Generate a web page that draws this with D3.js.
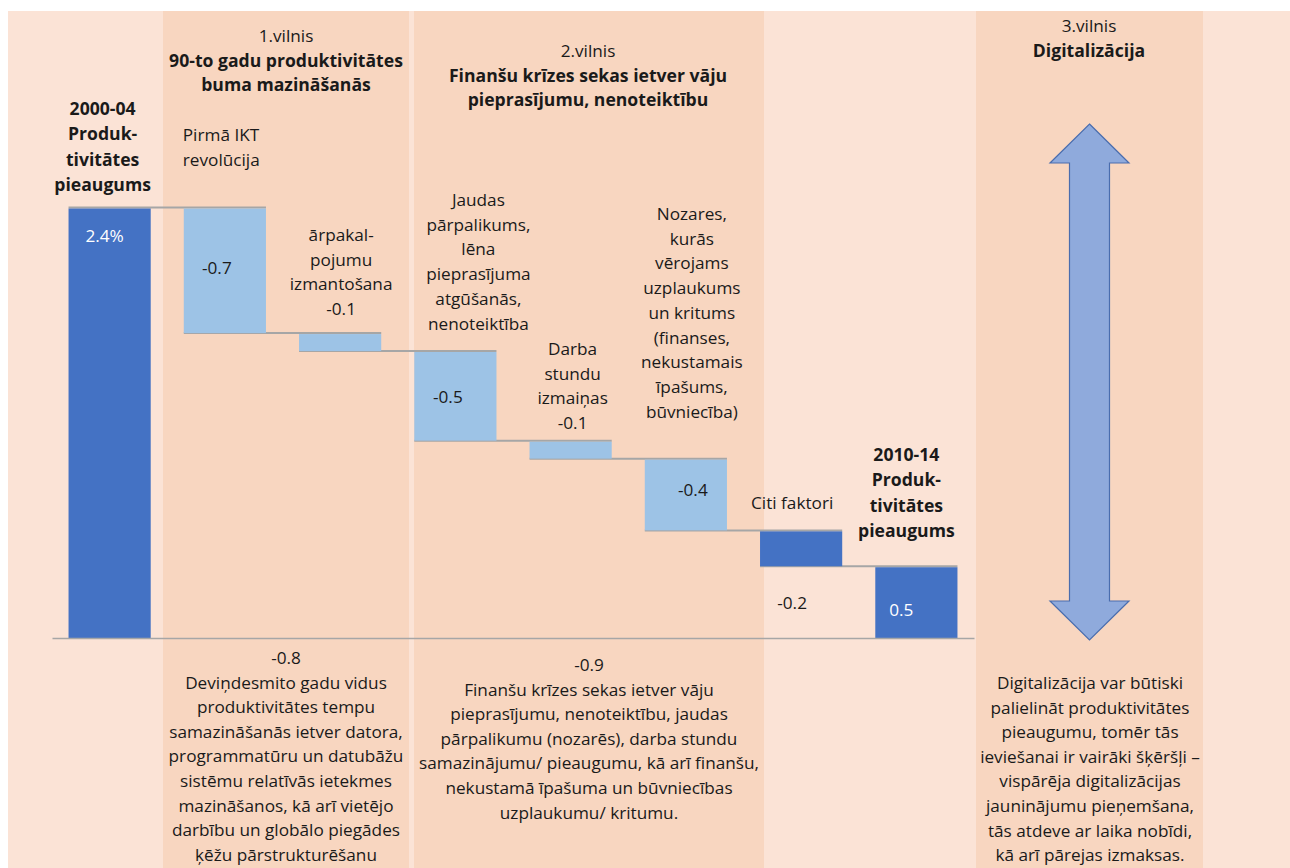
<!DOCTYPE html>
<html>
<head>
<meta charset="utf-8">
<script src="https://cdn.jsdelivr.net/npm/d3@7"></script>
<style>
  html, body { margin: 0; padding: 0; background: #ffffff; }
  svg { display: block; }
  text { font-family: "Open Sans", "Noto Sans", sans-serif; }
</style>
</head>
<body>
<svg id="chart" width="1290" height="868"></svg>
<script>
// ---------------- DATA ----------------
const categories = [
  "2000-04 Produktivitātes pieaugums",
  "Pirmā IKT revolūcija",
  "ārpakalpojumu izmantošana",
  "Jaudas pārpalikums",
  "Darba stundu izmaiņas",
  "Nozares ar uzplaukumu un kritumu",
  "Citi faktori",
  "2010-14 Produktivitātes pieaugums"
];
// change values (first = starting total, last = closing total, computed as running sum)
const values = [2.4, -0.7, -0.1, -0.5, -0.1, -0.4, -0.2, null];
const kinds = ["total", "delta", "delta", "delta", "delta", "delta", "other", "total"];
const valueLabels = ["2.4%", "-0.7", "-0.1", "-0.5", "-0.1", "-0.4", "-0.2", "0.5"];

const categoryLabelLines = [
  ["2000-04", "Produk-", "tivitātes", "pieaugums"],
  ["Pirmā IKT", "revolūcija"],
  ["ārpakal-", "pojumu", "izmantošana"],
  ["Jaudas", "pārpalikums,", "lēna", "pieprasījuma", "atgūšanās,", "nenoteiktība"],
  ["Darba", "stundu", "izmaiņas"],
  ["Nozares,", "kurās", "vērojams", "uzplaukums", "un kritums", "(finanses,", "nekustamais", "īpašums,", "būvniecība)"],
  ["Citi faktori"],
  ["2010-14", "Produk-", "tivitātes", "pieaugums"]
];

const waveNames = ["1.vilnis", "2.vilnis", "3.vilnis"];
const waveTitles = [
  ["90-to gadu produktivitātes", "buma mazināšanās"],
  ["Finanšu krīzes sekas ietver vāju", "pieprasījumu, nenoteiktību"],
  ["Digitalizācija"]
];
const waveTotals = ["-0.8", "-0.9", null];
const waveNotes = [
  ["Deviņdesmito gadu vidus", "produktivitātes tempu", "samazināšanās ietver datora,", "programmatūru un datubāžu", "sistēmu relatīvās ietekmes", "mazināšanos, kā arī vietējo", "darbību un globālo piegādes", "ķēžu pārstrukturēšanu"],
  ["Finanšu krīzes sekas ietver vāju", "pieprasījumu, nenoteiktību, jaudas", "pārpalikumu (nozarēs), darba stundu", "samazinājumu/ pieaugumu, kā arī finanšu,", "nekustamā īpašuma un būvniecības", "uzplaukumu/ kritumu."],
  ["Digitalizācija var būtiski", "palielināt produktivitātes", "pieaugumu, tomēr tās", "ieviešanai ir vairāki šķēršļi –", "vispārēja digitalizācijas", "jauninājumu pieņemšana,", "tās atdeve ar laika nobīdi,", "kā arī pārejas izmaksas."]
];

// ---------------- LAYOUT ----------------
const W = 1290, H = 868;
const svg = d3.select("#chart");
const C = {
  white: "#ffffff",
  bgLight: "#FBE3D6",
  band: "#F8D6C0",
  dark: "#4472C4",
  light: "#9DC3E6",
  line: "#A6A6A6",
  text: "#1a1a1a",
  arrowFill: "#8FAADC",
  arrowStroke: "#4A6DAE"
};
const FS = 17.2;
const FSB = 17.6;
const LH = 24.7;

// running totals
const bars = [];
let cum = 0;
values.forEach((v, i) => {
  if (kinds[i] === "total") {
    if (v === null) v = cum;       // closing total = running sum
    bars.push({ i, y0: 0, y1: v, kind: kinds[i] });
    cum = v;
  } else {
    bars.push({ i, y0: cum, y1: cum + v, kind: kinds[i] });
    cum = cum + v;
  }
});

const x = d3.scaleBand().domain(d3.range(categories.length))
  .range([52, 974]).paddingInner(0.287).paddingOuter(0.1435);
const y = d3.scaleLinear().domain([0, 2.4]).range([638, 207.5]);
const bw = x.bandwidth();

// background
svg.append("rect").attr("x", 0).attr("y", 0).attr("width", W).attr("height", H).attr("fill", C.white);
svg.append("rect").attr("x", 8).attr("y", 11).attr("width", W - 8).attr("height", H - 11).attr("fill", C.bgLight);
const bandsX = [[163, 409], [414, 764], [976, 1203]];
svg.selectAll("rect.band").data(bandsX).join("rect").attr("class", "band")
  .attr("x", d => d[0]).attr("y", 11).attr("width", d => d[1] - d[0]).attr("height", H - 11)
  .attr("fill", C.band);

// connector lines
const conn = bars.slice(0, -1).map((b, k) => ({ level: b.y1, from: k, to: k + 1 }));
svg.selectAll("line.conn").data(conn).join("line").attr("class", "conn")
  .attr("x1", d => x(d.from)).attr("x2", d => x(d.to) + bw)
  .attr("y1", d => y(d.level)).attr("y2", d => y(d.level))
  .attr("stroke", C.line).attr("stroke-width", 2);

// bars
svg.selectAll("rect.bar").data(bars).join("rect").attr("class", "bar")
  .attr("x", d => x(d.i)).attr("width", bw)
  .attr("y", d => y(Math.max(d.y0, d.y1)) + 1)
  .attr("height", d => Math.abs(y(d.y0) - y(d.y1)) - 1)
  .attr("fill", d => d.kind === "delta" ? C.light : C.dark);

// axis baseline
const axis = d3.axisBottom(x).tickSize(0).tickFormat("");
const gAx = svg.append("g").attr("transform", `translate(0,${y(0)})`).call(axis);
gAx.select(".domain").attr("stroke", C.line).attr("stroke-width", 1.5);

// helper for multi-line text (y = center of first line)
function block(lines, cx, cy, opts = {}) {
  const t = svg.append("text")
    .attr("x", cx).attr("y", cy)
    .attr("text-anchor", opts.anchor || "middle")
    .attr("font-size", opts.size || (opts.weight === 700 ? FSB : FS))
    .attr("font-weight", opts.weight || 400)
    .attr("fill", opts.fill || C.text);
  lines.forEach((l, k) => {
    t.append("tspan").attr("x", cx).attr("y", cy + k * (opts.lh || LH)).attr("dy", "0.35em").text(l);
  });
  return t;
}
const cx = i => x(i) + bw / 2;

// value labels
const valuePos = [
  { dx: -5, y: 236, fill: C.white },
  { dx: -8, y: 268 },
  null,
  { dx: -7.5, y: 397 },
  null,
  { dx: 7, y: 490 },
  { dx: -9, y: 603 },
  { dx: -15, y: 610, fill: C.white }
];
valuePos.forEach((p, i) => {
  if (p) block([valueLabels[i]], cx(i) + p.dx, p.y, { fill: p.fill || C.text });
});

// category labels
block(categoryLabelLines[0], cx(0) - 7, 109, { weight: 700, lh: 25.3 });
block(categoryLabelLines[1], x(1) - 1, 135, { anchor: "start" });
block(categoryLabelLines[2].concat([valueLabels[2]]), cx(2) + 1, 235);
block(categoryLabelLines[3], cx(3) + 23, 200);
block(categoryLabelLines[4].concat([valueLabels[4]]), cx(4) + 2, 349);
block(categoryLabelLines[5], cx(5) + 6, 214);
block(categoryLabelLines[6], cx(6) - 9, 503);
block(categoryLabelLines[7], cx(7) - 10, 455, { weight: 700, lh: 25.3 });

// wave headers
const waveCx = [286, 588, 1089];
const waveTop = [36, 51, 26];
waveNames.forEach((n, k) => {
  block([n], waveCx[k], waveTop[k]);
  block(waveTitles[k], waveCx[k], waveTop[k] + 24.5, { weight: 700 });
});

// wave notes at bottom
const noteCx = [286, 589, 1090];
const noteTop = [658, 665, 683];
waveNotes.forEach((lines, k) => {
  const all = waveTotals[k] ? [waveTotals[k]].concat(lines) : lines;
  block(all, noteCx[k], noteTop[k], { lh: 24.6 });
});

// double-headed arrow (digitalisation potential)
const ay = d3.scaleLinear().domain([0, 1]).range([124, 640]);
const acx = 1089.5, headHalf = 39.5, shaftHalf = 20, headH = 39;
const arrowPts = [
  [acx, ay(0)],
  [acx + headHalf, ay(0) + headH],
  [acx + shaftHalf, ay(0) + headH],
  [acx + shaftHalf, ay(1) - headH],
  [acx + headHalf, ay(1) - headH],
  [acx, ay(1)],
  [acx - headHalf, ay(1) - headH],
  [acx - shaftHalf, ay(1) - headH],
  [acx - shaftHalf, ay(0) + headH],
  [acx - headHalf, ay(0) + headH]
];
svg.append("path").attr("d", d3.line()(arrowPts) + "Z")
  .attr("fill", C.arrowFill).attr("stroke", C.arrowStroke).attr("stroke-width", 1.2);
</script>
</body>
</html>
